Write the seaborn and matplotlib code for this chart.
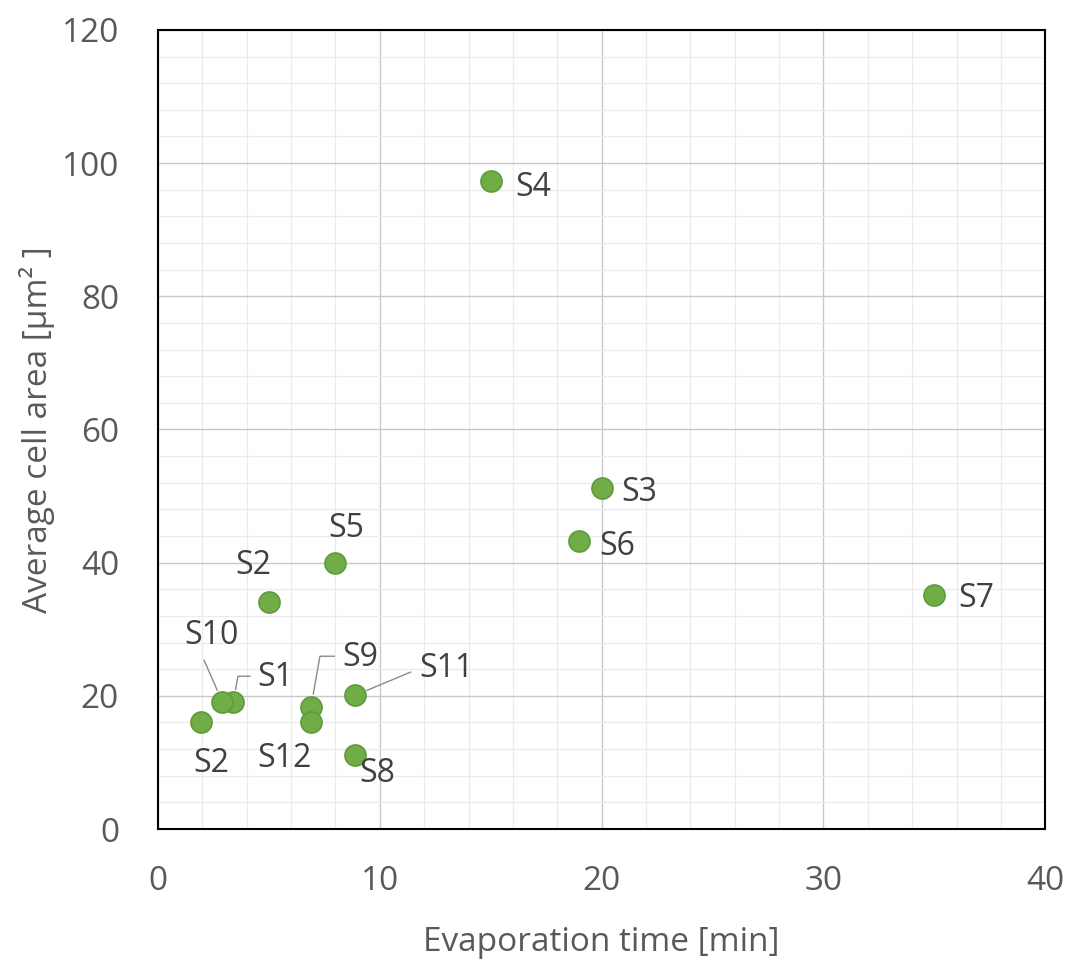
import numpy as np
import pandas as pd
import matplotlib
matplotlib.use("Agg")
import matplotlib.pyplot as plt
from matplotlib.ticker import MultipleLocator
import seaborn as sns

samples = ["S1", "S2", "S3", "S4", "S5", "S6", "S7", "S8", "S9", "S10", "S11", "S12", "S2b"]
labels = ["S1", "S2", "S3", "S4", "S5", "S6", "S7", "S8", "S9", "S10", "S11", "S12", "S2"]
evap_time = [3.4, 5, 20, 15, 8, 19, 35, 8.9, 6.9, 2.9, 8.9, 6.9, 1.95]
cell_area = [19.1, 34.1, 51.2, 97.3, 40.0, 43.3, 35.1, 11.1, 18.4, 19.1, 20.1, 16.1, 16.1]

# label centres in data units, and the leader line style (None = no line)
label_pos = {
    "S1": (5.3, 22.7, "elbow"), "S2": (4.3, 39.6, None), "S3": (21.7, 50.5, None),
    "S4": (16.9, 96.3, None), "S5": (8.5, 45.1, None), "S6": (20.7, 42.5, None),
    "S7": (36.9, 34.6, None), "S8": (9.9, 8.4, None), "S9": (9.1, 25.7, "elbow"),
    "S10": (2.4, 29.1, "straight"), "S11": (13.0, 24.1, "straight"),
    "S12": (5.7, 10.6, None), "S2b": (2.4, 9.8, None),
}

df = pd.DataFrame({"sample": samples, "label": labels, "time": evap_time, "area": cell_area})

sns.set_style("white")
plt.rcParams["font.family"] = ["Open Sans", "DejaVu Sans"]

fig = plt.figure(figsize=(10.69, 9.64), dpi=100)
ax = fig.add_axes([0.1478, 0.140, 0.83, 0.829])

sns.scatterplot(data=df, x="time", y="area", ax=ax, s=230, color="#70ad47",
                edgecolor="#5f9a3b", linewidth=1.2, zorder=3)

ax.set_xlim(0, 40)
ax.set_ylim(0, 120)
ax.xaxis.set_major_locator(MultipleLocator(10))
ax.xaxis.set_minor_locator(MultipleLocator(2))
ax.yaxis.set_major_locator(MultipleLocator(20))
ax.yaxis.set_minor_locator(MultipleLocator(4))
ax.grid(which="major", color="#c8c8c8", linewidth=1.0)
ax.grid(which="minor", color="#ebebeb", linewidth=0.9)
ax.set_axisbelow(True)

ax.tick_params(which="major", direction="in", length=8, width=1.3, color="black",
               labelsize=24, labelcolor="#595959", pad=26, top=False, right=False)
ax.tick_params(which="minor", direction="in", length=6, width=1.1, color="black",
               top=False, right=False)
ax.tick_params(axis="y", which="major", pad=28)
for sp in ax.spines.values():
    sp.set_color("black")
    sp.set_linewidth(1.5)

ax.set_xlabel("Evaporation time [min]", fontsize=24, color="#595959", labelpad=20)
ax.set_ylabel("Average cell area [μm² ]", fontsize=24, color="#595959", labelpad=5)

for _, r in df.iterrows():
    lx, ly, leader = label_pos[r["sample"]]
    if leader == "elbow":
        ax.annotate(r["label"], xy=(r["time"], r["area"]), xytext=(lx, ly),
                    fontsize=23, color="#404040", ha="center", va="center",
                    arrowprops=dict(arrowstyle="-", color="#8a8a8a", lw=1.0,
                                    relpos=(0, 0.55), shrinkA=3, shrinkB=9,
                                    connectionstyle="angle,angleA=180,angleB=80,rad=0"))
    elif leader == "straight":
        rp = (0.3, 0.0) if r["sample"] == "S10" else (0.0, 0.5)
        ax.annotate(r["label"], xy=(r["time"], r["area"]), xytext=(lx, ly),
                    fontsize=23, color="#404040", ha="center", va="center",
                    arrowprops=dict(arrowstyle="-", color="#8a8a8a", lw=1.0,
                                    relpos=rp, shrinkA=4, shrinkB=9))
    else:
        ax.text(lx, ly, r["label"], fontsize=23, color="#404040", ha="center", va="center")

fig.savefig("out.png", dpi=100)
